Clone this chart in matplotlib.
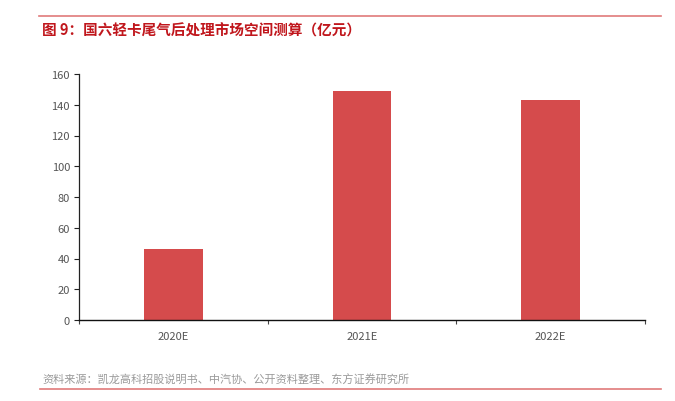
import matplotlib.pyplot as plt
from matplotlib.lines import Line2D

plt.rcParams['font.family'] = ['Noto Sans CJK SC', 'DejaVu Sans']

categories = ["2020E", "2021E", "2022E"]
values = [46.2, 149, 143]
yticks = [0, 20, 40, 60, 80, 100, 120, 140, 160]

title = "图 9：国六轻卡尾气后处理市场空间测算（亿元）"
source = "资料来源：凯龙高科招股说明书、中汽协、公开资料整理、东方证券研究所"

W, H = 675, 402
fig = plt.figure(figsize=(W / 100, H / 100), dpi=100)
ax = fig.add_axes([79 / W, 1 - 321 / H, (645 - 79) / W, (321 - 75) / H])

x = list(range(len(categories)))
ax.bar(x, values, width=0.31, color="#d54b4c", zorder=2)

ax.set_xlim(-0.5, len(categories) - 0.5)
ax.set_ylim(0, 160)
ax.set_yticks(yticks)
ax.set_yticklabels([str(v) for v in yticks], fontsize=8, color="#555555")
ax.set_xticks(x)
ax.set_xticklabels(categories, fontsize=8, color="#555555")
ax.tick_params(axis="x", length=0, pad=8)
ax.tick_params(axis="y", length=3.5, width=0.8, color="#222222", pad=3, direction="out")

# category boundary ticks on the x axis
ax.set_xticks([i - 0.5 for i in range(len(categories) + 1)], minor=True)
ax.tick_params(axis="x", which="minor", length=3, width=0.8, color="#444444", direction="out")

for s in ["top", "right"]:
    ax.spines[s].set_visible(False)
ax.spines["left"].set_color("#222222")
ax.spines["bottom"].set_color("#111111")
ax.spines["left"].set_linewidth(0.9)
ax.spines["bottom"].set_linewidth(1.0)

# header/footer rules
fig.add_artist(Line2D([39 / W, 661 / W], [1 - 17 / H, 1 - 17 / H], color="#e07a7a", lw=1.2))
fig.add_artist(Line2D([40 / W, 661 / W], [1 - 390 / H, 1 - 390 / H], color="#e07a7a", lw=1.2))

fig.text(42 / W, 1 - 31 / H, title, fontsize=10.5, fontweight="bold", color="#c0161c", va="center", ha="left")
fig.text(42 / W, 1 - 380 / H, source, fontsize=8, color="#9a9a9a", va="center", ha="left")

fig.savefig("out.png", dpi=100)
